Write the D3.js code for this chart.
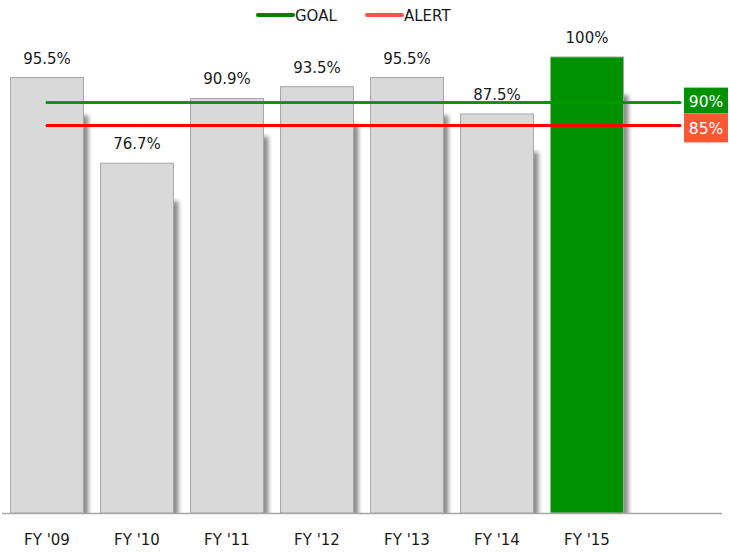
<!DOCTYPE html>
<html>
<head>
<meta charset="utf-8">
<script src="https://cdn.jsdelivr.net/npm/d3@7"></script>
<style>
  html, body { margin: 0; padding: 0; background: #fff; }
  svg { display: block; font-family: "DejaVu Sans", Verdana, sans-serif; }
</style>
</head>
<body>
<svg id="chart" width="730" height="554"></svg>
<script>
// Fiscal years and their rates (%)
const years = ["FY '09", "FY '10", "FY '11", "FY '12", "FY '13", "FY '14", "FY '15"];
const rates = [95.5, 76.7, 90.9, 93.5, 95.5, 87.5, 100];
const valueLabels = ["95.5%", "76.7%", "90.9%", "93.5%", "95.5%", "87.5%", "100%"];
// Reference levels
const goalLevel = 90;
const alertLevel = 85;
const goalLabel = "90%";
const alertLabel = "85%";

const svg = d3.select("#chart");
const W = 730, H = 554;
const plotLeft = 2, plotRight = 722, base = 513, plotTop = 57;

// an extra empty band on the right holds the reference-line tags
const slots = years.concat([""]);
const x = d3.scaleBand().domain(slots).range([plotLeft, plotRight]).paddingInner(0.19).paddingOuter(0.095);
const y = d3.scaleLinear().domain([0, 100]).range([base, plotTop]);
const band = d3.scaleBand().domain(slots).range([plotLeft, plotRight]);

const defs = svg.append("defs");
const blur = defs.append("filter").attr("id", "soft").attr("x", "-20%").attr("y", "-50%").attr("width", "140%").attr("height", "200%");
blur.append("feGaussianBlur").attr("stdDeviation", 2);
defs.append("clipPath").attr("id", "plotClip")
  .append("rect").attr("x", 0).attr("y", 0).attr("width", W).attr("height", base);

// bar shadows
svg.append("g").attr("clip-path", "url(#plotClip)")
  .selectAll("rect").data(rates).join("rect")
  .attr("x", (d, i) => x(years[i]) + 5)
  .attr("y", d => y(d) + 38)
  .attr("width", x.bandwidth())
  .attr("height", d => base - y(d))
  .attr("fill", "#707070")
  .attr("opacity", 0.8)
  .attr("filter", "url(#soft)");

// bars
svg.append("g").selectAll("rect").data(rates).join("rect")
  .attr("x", (d, i) => x(years[i]))
  .attr("y", d => y(d))
  .attr("width", x.bandwidth())
  .attr("height", d => base - y(d))
  .attr("fill", (d, i) => i === rates.length - 1 ? "#009100" : "#d9d9d9")
  .attr("stroke", (d, i) => i === rates.length - 1 ? "#8fb08f" : "#a6a6a6")
  .attr("stroke-width", 1);

// value labels
svg.append("g").selectAll("text").data(rates).join("text")
  .attr("x", (d, i) => x(years[i]) + x.bandwidth() / 2)
  .attr("y", d => y(d) - 14)
  .attr("text-anchor", "middle")
  .attr("font-size", 15)
  .attr("fill", "#1a1a1a")
  .text((d, i) => valueLabels[i]);

// baseline
svg.append("line")
  .attr("x1", plotLeft).attr("x2", plotRight)
  .attr("y1", base + 0.5).attr("y2", base + 0.5)
  .attr("stroke", "#a6a6a6").attr("stroke-width", 1.5);

// category labels
svg.append("g").selectAll("text").data(years).join("text")
  .attr("x", d => x(d) + x.bandwidth() / 2)
  .attr("y", 545)
  .attr("text-anchor", "middle")
  .attr("font-size", 15)
  .attr("fill", "#1a1a1a")
  .text(d => d);

// reference lines with shadows
const lx1 = band(years[0]) + band.bandwidth() / 2;
const lx2 = band("") + band.bandwidth() / 2 + 3;
const refs = [
  { v: goalLevel, color: "#009900", tag: goalLabel, tagFill: "#009100" },
  { v: alertLevel, color: "#ff0000", tag: alertLabel, tagFill: "#ff5733" }
];
refs.forEach(r => {
  svg.append("line")
    .attr("x1", lx1 + 2).attr("x2", lx2 + 2)
    .attr("y1", y(r.v) + 9).attr("y2", y(r.v) + 9)
    .attr("stroke", "#7a7a7a").attr("stroke-width", 5).attr("opacity", 0.85)
    .attr("filter", "url(#soft)");
});
refs.forEach(r => {
  svg.append("line")
    .attr("x1", lx1).attr("x2", lx2)
    .attr("y1", y(r.v)).attr("y2", y(r.v))
    .attr("stroke", r.color).attr("stroke-width", 3).attr("stroke-linecap", "round");
});
// tags at the right end
const tagX = 684, tagW = 44;
const tagTop = [y(goalLevel) - 15, y(alertLevel) - 12];
const tagBottom = [y(alertLevel) - 12, y(alertLevel) + 17];
refs.forEach((r, i) => {
  svg.append("rect")
    .attr("x", tagX).attr("y", tagTop[i])
    .attr("width", tagW).attr("height", tagBottom[i] - tagTop[i])
    .attr("fill", r.tagFill);
  svg.append("text")
    .attr("x", tagX + tagW / 2).attr("y", (tagTop[i] + tagBottom[i]) / 2 + 6)
    .attr("text-anchor", "middle").attr("font-size", 15.5).attr("fill", "#fff")
    .text(r.tag);
});

// legend
const legend = [
  { name: "GOAL", color: "#008000", x: 256 },
  { name: "ALERT", color: "#ff5050", x: 365 }
];
const lg = svg.append("g");
legend.forEach(l => {
  lg.append("line")
    .attr("x1", l.x + 2).attr("x2", l.x + 37)
    .attr("y1", 15).attr("y2", 15)
    .attr("stroke", l.color).attr("stroke-width", 4).attr("stroke-linecap", "round");
  lg.append("text")
    .attr("x", l.x + 39).attr("y", 21)
    .attr("font-size", 15).attr("fill", "#1a1a1a")
    .text(l.name);
});
</script>
</body>
</html>
